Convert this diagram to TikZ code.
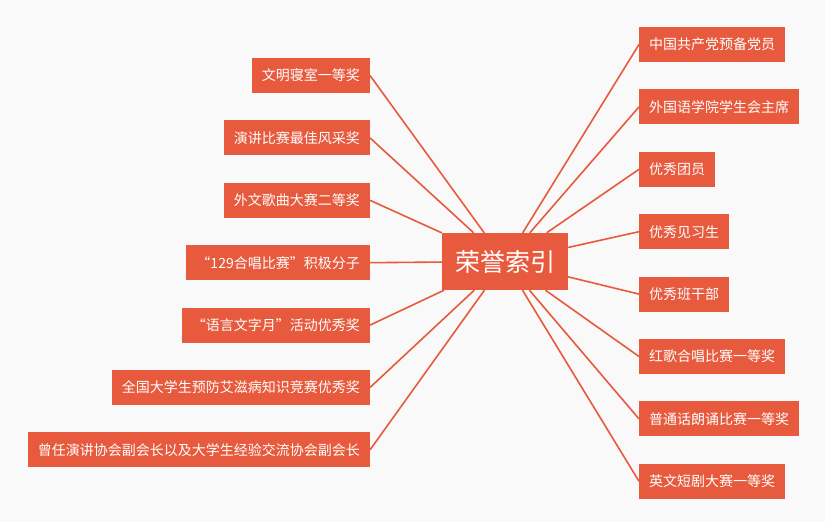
\documentclass[tikz,border=0pt]{standalone}
\usepackage{xcolor}
\usepackage{fontspec}
\setmainfont{Noto Sans CJK SC}
\usepackage{tikz}
\usetikzlibrary{positioning}
\definecolor{honor}{RGB}{231,90,61}
\definecolor{paper}{RGB}{249,249,249}

\begin{document}
\begin{tikzpicture}[x=1pt, y=-1pt,
  hub/.style={rectangle, fill=honor, text=white,
              minimum width=126pt, minimum height=57pt,
              font=\fontsize{25}{28}\selectfont},
  leaf/.style={rectangle, fill=honor, text=white,
               minimum height=35pt, inner xsep=10pt,
               font=\fontsize{14}{16}\selectfont},
  link/.style={draw=honor, line width=1.6pt}
]
\fill[white] (0,0) rectangle (831,526);
\fill[paper] (0,0) rectangle (825,522);

\node[hub] (hub) at (505,261.5) {荣誉索引};

% left column
\node[leaf, anchor=east] (l1) at (370,75.5) {文明寝室一等奖};
\node[leaf, below=27pt of l1.south east, anchor=north east] (l2) {演讲比赛最佳风采奖};
\node[leaf, below=27pt of l2.south east, anchor=north east] (l3) {外文歌曲大赛二等奖};
\node[leaf, below=27pt of l3.south east, anchor=north east] (l4) {“129合唱比赛”积极分子};
\node[leaf, below=27pt of l4.south east, anchor=north east] (l5) {“语言文字月”活动优秀奖};
\node[leaf, below=27pt of l5.south east, anchor=north east] (l6) {全国大学生预防艾滋病知识竞赛优秀奖};
\node[leaf, below=27pt of l6.south east, anchor=north east] (l7) {曾任演讲协会副会长以及大学生经验交流协会副会长};

% right column
\node[leaf, anchor=west] (r1) at (639,44.5) {中国共产党预备党员};
\node[leaf, below=27pt of r1.south west, anchor=north west] (r2) {外国语学院学生会主席};
\node[leaf, below=27pt of r2.south west, anchor=north west] (r3) {优秀团员};
\node[leaf, below=27pt of r3.south west, anchor=north west] (r4) {优秀见习生};
\node[leaf, below=27pt of r4.south west, anchor=north west] (r5) {优秀班干部};
\node[leaf, below=27pt of r5.south west, anchor=north west] (r6) {红歌合唱比赛一等奖};
\node[leaf, below=27pt of r6.south west, anchor=north west] (r7) {普通话朗诵比赛一等奖};
\node[leaf, below=27pt of r7.south west, anchor=north west] (r8) {英文短剧大赛一等奖};

\foreach \n in {l1,l2,l3,l4,l5,l6,l7}
  \draw[link] (hub) -- (\n.east);
\foreach \n in {r1,r2,r3,r4,r5,r6,r7,r8}
  \draw[link] (hub) -- (\n.west);
\end{tikzpicture}
\end{document}
